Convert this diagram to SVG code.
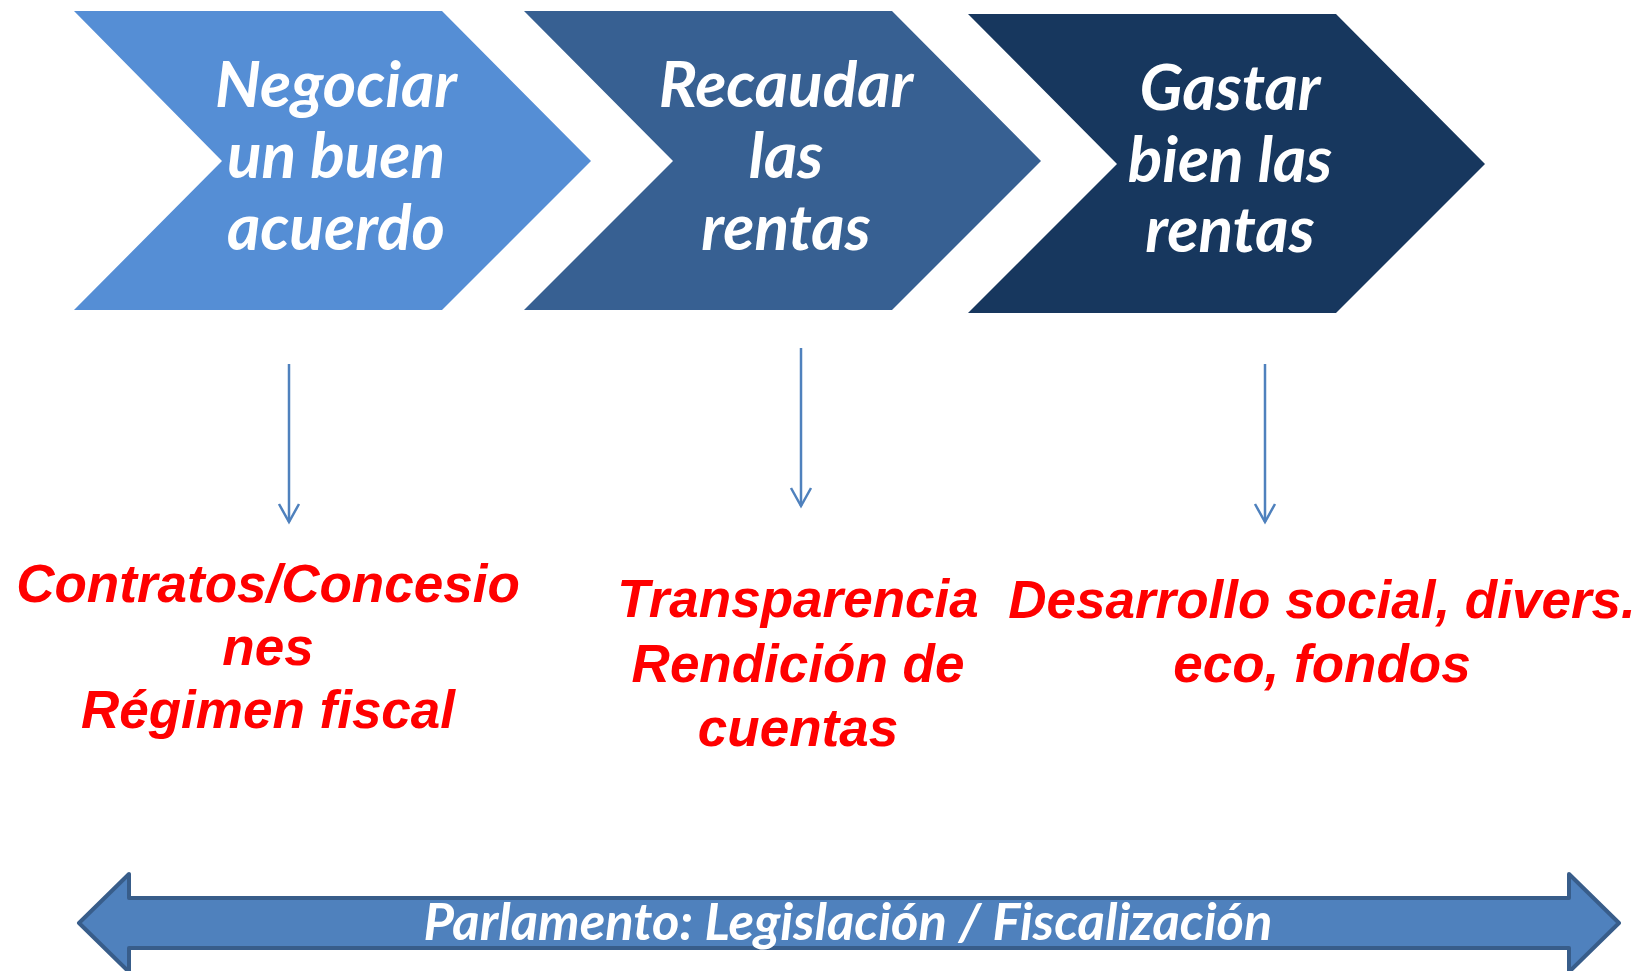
<svg xmlns="http://www.w3.org/2000/svg" width="1648" height="971" viewBox="0 0 1648 971">
  <defs>
    <style>
      .chev-text { font-family: Lato, "Open Sans", "Noto Sans", sans-serif; font-weight: bold; font-style: italic; font-size: 64px; fill: #FFFFFF; text-anchor: middle; }
      .red-text { font-family: "Liberation Sans", Arial, sans-serif; font-weight: bold; font-style: italic; font-size: 53px; fill: #FF0000; text-anchor: middle; }
      .bar-text { font-family: Lato, "Open Sans", "Noto Sans", sans-serif; font-weight: bold; font-style: italic; font-size: 52.5px; fill: #FFFFFF; text-anchor: middle; }
      .conn { stroke: #4F81BD; stroke-width: 2.5; fill: none; }
    </style>
    <marker id="open-arrow" viewBox="0 0 24 24" refX="20" refY="12" markerWidth="24" markerHeight="24" markerUnits="userSpaceOnUse" orient="auto">
      <path d="M2,2 L20,12 L2,22" fill="none" stroke="#4F81BD" stroke-width="2.5"/>
    </marker>
  </defs>
  <rect width="1648" height="971" fill="#FFFFFF"/>

  <g id="node-negociar">
    <polygon points="74,11 442,11 591,161 442,310 74,310 222,161" fill="#558ED5"/>
    <text class="chev-text" x="336" y="107">Negociar</text>
    <text class="chev-text" x="336" y="178">un buen</text>
    <text class="chev-text" x="336" y="250">acuerdo</text>
  </g>

  <g id="node-recaudar">
    <polygon points="524,11 892,11 1041,161 892,310 524,310 673,161" fill="#376092"/>
    <text class="chev-text" x="786" y="107">Recaudar</text>
    <text class="chev-text" x="786" y="178">las</text>
    <text class="chev-text" x="786" y="250">rentas</text>
  </g>

  <g id="node-gastar">
    <polygon points="968,14 1336,14 1485,164 1336,313 968,313 1117,164" fill="#17375E"/>
    <text class="chev-text" x="1230" y="110">Gastar</text>
    <text class="chev-text" x="1230" y="182">bien las</text>
    <text class="chev-text" x="1230" y="252">rentas</text>
  </g>

  <g id="connectors">
    <line class="conn" x1="289" y1="364" x2="289" y2="522" marker-end="url(#open-arrow)"/>
    <line class="conn" x1="801" y1="348" x2="801" y2="506" marker-end="url(#open-arrow)"/>
    <line class="conn" x1="1265" y1="364" x2="1265" y2="522" marker-end="url(#open-arrow)"/>
  </g>

  <g id="node-contratos">
    <text class="red-text" x="268" y="602">Contratos/Concesio</text>
    <text class="red-text" x="268" y="665">nes</text>
    <text class="red-text" x="268" y="728">Régimen fiscal</text>
  </g>

  <g id="node-transparencia">
    <text class="red-text" x="798" y="617">Transparencia</text>
    <text class="red-text" x="798" y="682">Rendición de</text>
    <text class="red-text" x="798" y="746">cuentas</text>
  </g>

  <g id="node-desarrollo">
    <text class="red-text" x="1322" y="618">Desarrollo social, divers.</text>
    <text class="red-text" x="1322" y="682">eco, fondos</text>
  </g>

  <g id="node-parlamento">
    <polygon points="79,923 129,874 129,898 1569,898 1569,874 1619,923 1569,972 1569,948 129,948 129,972" fill="#4F81BD" stroke="#385D8A" stroke-width="4" stroke-linejoin="round"/>
    <text class="bar-text" x="848" y="940">Parlamento: Legislación / Fiscalización</text>
  </g>
</svg>
